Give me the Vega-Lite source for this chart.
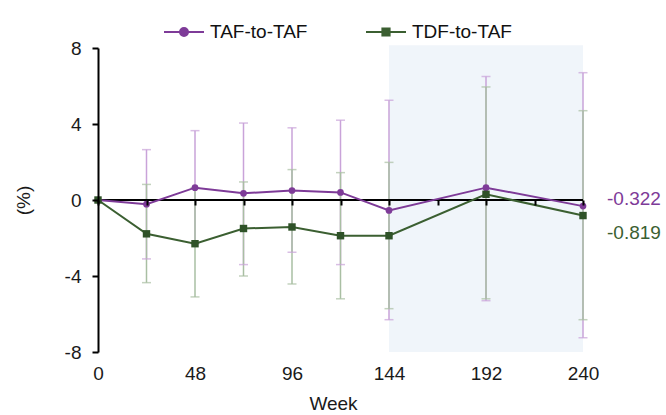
{
  "$schema": "https://vega.github.io/schema/vega-lite/v6.json",
  "width": 485,
  "height": 304,
  "autosize": "none",
  "padding": {"left": 98, "top": 48, "right": 83, "bottom": 63},
  "background": "white",
  "config": {
    "view": {"stroke": null},
    "font": "Liberation Sans",
    "axis": {"labelFont": "Liberation Sans", "titleFont": "Liberation Sans", "labelColor": "#1a1a1a", "titleColor": "#1a1a1a", "titleFontWeight": "normal", "grid": false}
  },
  "datasets": {
    "shade": [{"start": 144, "end": 240}],
    "zero": [{"level": 0}],
    "pts": [
      {"series": "TAF-to-TAF", "week": 0, "mean": 0, "lo": 0, "hi": 0},
      {"series": "TAF-to-TAF", "week": 24, "mean": -0.22, "lo": -3.1, "hi": 2.65},
      {"series": "TAF-to-TAF", "week": 48, "mean": 0.65, "lo": -2.3, "hi": 3.65},
      {"series": "TAF-to-TAF", "week": 72, "mean": 0.35, "lo": -3.4, "hi": 4.05},
      {"series": "TAF-to-TAF", "week": 96, "mean": 0.5, "lo": -2.75, "hi": 3.8},
      {"series": "TAF-to-TAF", "week": 120, "mean": 0.4, "lo": -3.4, "hi": 4.2},
      {"series": "TAF-to-TAF", "week": 144, "mean": -0.55, "lo": -6.3, "hi": 5.25},
      {"series": "TAF-to-TAF", "week": 192, "mean": 0.65, "lo": -5.3, "hi": 6.5},
      {"series": "TAF-to-TAF", "week": 240, "mean": -0.322, "lo": -7.25, "hi": 6.7},
      {"series": "TDF-to-TAF", "week": 0, "mean": 0, "lo": 0, "hi": 0},
      {"series": "TDF-to-TAF", "week": 24, "mean": -1.78, "lo": -4.35, "hi": 0.82},
      {"series": "TDF-to-TAF", "week": 48, "mean": -2.3, "lo": -5.1, "hi": 0.65},
      {"series": "TDF-to-TAF", "week": 72, "mean": -1.5, "lo": -4.0, "hi": 0.95},
      {"series": "TDF-to-TAF", "week": 96, "mean": -1.42, "lo": -4.42, "hi": 1.6},
      {"series": "TDF-to-TAF", "week": 120, "mean": -1.88, "lo": -5.2, "hi": 1.44},
      {"series": "TDF-to-TAF", "week": 144, "mean": -1.88, "lo": -5.72, "hi": 1.98},
      {"series": "TDF-to-TAF", "week": 192, "mean": 0.3, "lo": -5.2, "hi": 5.95},
      {"series": "TDF-to-TAF", "week": 240, "mean": -0.819, "lo": -6.3, "hi": 4.7}
    ],
    "endlabels": [
      {"series": "TAF-to-TAF", "week": 240, "mean": -0.322, "text": "-0.322"},
      {"series": "TDF-to-TAF", "week": 240, "mean": -0.819, "text": "-0.819"}
    ]
  },
  "layer": [
    {
      "data": {"name": "shade"},
      "mark": {"type": "rect", "color": "#f0f5fa"},
      "encoding": {
        "x": {"field": "start", "type": "quantitative", "scale": {"domain": [0, 240], "nice": false},
          "axis": {
            "values": [0, 24, 48, 72, 96, 120, 144, 168, 192, 216, 240],
            "labelExpr": "datum.value % 48 === 0 ? datum.label : ''",
            "offset": -152,
            "domain": false,
            "ticks": true, "tickColor": "#000", "tickWidth": 2, "tickSize": 5,
            "labelPadding": 159, "labelFontSize": 19, "labelFlush": false, "labelOverlap": false,
            "title": "Week", "titleFontSize": 19, "titlePadding": 11, "titleX": 235,
            "zindex": 1
          }},
        "x2": {"field": "end"},
        "y": {"datum": -8, "type": "quantitative", "scale": {"domain": [-8, 8], "nice": false},
          "axis": {
            "values": [-8, -4, 0, 4, 8],
            "labelExpr": "'' + datum.value",
            "domainColor": "#000", "domainWidth": 2,
            "tickColor": "#000", "tickWidth": 2, "tickSize": 6,
            "labelPadding": 11, "labelFontSize": 19,
            "title": "(%)", "titleFontSize": 19, "titlePadding": 31,
            "zindex": 1
          }},
        "y2": {"datum": 8.15}
      }
    },
    {
      "data": {"name": "pts"},
      "transform": [{"filter": "datum.week > 0"}],
      "mark": {"type": "rule", "strokeWidth": 1.5},
      "encoding": {
        "x": {"field": "week", "type": "quantitative"},
        "y": {"field": "lo", "type": "quantitative"},
        "y2": {"field": "hi"},
        "color": {"field": "series", "type": "nominal", "scale": {"domain": ["TAF-to-TAF", "TDF-to-TAF"], "range": ["#c9a3d9", "#a9bfa3"]}, "legend": null}
      }
    },
    {
      "data": {"name": "pts"},
      "transform": [{"filter": "datum.week > 0"}],
      "mark": {"type": "tick", "orient": "horizontal", "size": 9, "thickness": 1.5},
      "encoding": {
        "x": {"field": "week", "type": "quantitative"},
        "y": {"field": "lo", "type": "quantitative"},
        "color": {"field": "series", "type": "nominal", "scale": {"domain": ["TAF-to-TAF", "TDF-to-TAF"], "range": ["#c9a3d9", "#a9bfa3"]}, "legend": null}
      }
    },
    {
      "data": {"name": "pts"},
      "transform": [{"filter": "datum.week > 0"}],
      "mark": {"type": "tick", "orient": "horizontal", "size": 9, "thickness": 1.5},
      "encoding": {
        "x": {"field": "week", "type": "quantitative"},
        "y": {"field": "hi", "type": "quantitative"},
        "color": {"field": "series", "type": "nominal", "scale": {"domain": ["TAF-to-TAF", "TDF-to-TAF"], "range": ["#c9a3d9", "#a9bfa3"]}, "legend": null}
      }
    },
    {
      "data": {"name": "zero"},
      "mark": {"type": "rule", "color": "#000", "strokeWidth": 2},
      "encoding": {
        "y": {"field": "level", "type": "quantitative"}
      }
    },
    {
      "data": {"name": "pts"},
      "mark": {"type": "line", "strokeWidth": 2},
      "encoding": {
        "x": {"field": "week", "type": "quantitative"},
        "y": {"field": "mean", "type": "quantitative"},
        "stroke": {"field": "series", "type": "nominal",
          "scale": {"domain": ["TAF-to-TAF", "TDF-to-TAF"], "range": ["#7e3b98", "#3b5f31"]},
          "legend": {
            "orient": "none", "legendX": 65, "legendY": -37, "direction": "horizontal",
            "title": null, "labelFontSize": 19, "labelColor": "#111", "labelFont": "Liberation Sans",
            "symbolSize": 1600, "symbolStrokeWidth": 2, "labelOffset": 5, "columnPadding": 54,
            "encode": {
              "symbols": {
                "update": {
                  "shape": {"signal": "datum.value === 'TAF-to-TAF' ? 'M-1,0H1M-0.2,0A0.2,0.2 0 1,1 0.2,0A0.2,0.2 0 1,1 -0.2,0Z' : 'M-1,0H1M-0.18,-0.18H0.18V0.18H-0.18Z'"},
                  "fill": {"scale": "stroke", "field": "value"},
                  "stroke": {"scale": "stroke", "field": "value"},
                  "strokeWidth": {"value": 2}
                }
              }
            }
          }}
      }
    },
    {
      "data": {"name": "pts"},
      "transform": [{"filter": "datum.series === 'TAF-to-TAF'"}],
      "mark": {"type": "point", "filled": true, "opacity": 1, "shape": "circle", "size": 45, "color": "#7e3b98"},
      "encoding": {
        "x": {"field": "week", "type": "quantitative"},
        "y": {"field": "mean", "type": "quantitative"}
      }
    },
    {
      "data": {"name": "pts"},
      "transform": [{"filter": "datum.series === 'TDF-to-TAF'"}],
      "mark": {"type": "point", "filled": true, "opacity": 1, "shape": "square", "size": 55, "color": "#2f5228"},
      "encoding": {
        "x": {"field": "week", "type": "quantitative"},
        "y": {"field": "mean", "type": "quantitative"}
      }
    },
    {
      "data": {"name": "endlabels"},
      "transform": [{"filter": "datum.series === 'TAF-to-TAF'"}],
      "mark": {"type": "text", "align": "left", "baseline": "middle", "dx": 24, "dy": -7, "fontSize": 19, "font": "Liberation Sans", "color": "#7e3b98"},
      "encoding": {
        "x": {"field": "week", "type": "quantitative"},
        "y": {"field": "mean", "type": "quantitative"},
        "text": {"field": "text"}
      }
    },
    {
      "data": {"name": "endlabels"},
      "transform": [{"filter": "datum.series === 'TDF-to-TAF'"}],
      "mark": {"type": "text", "align": "left", "baseline": "middle", "dx": 24, "dy": 17, "fontSize": 19, "font": "Liberation Sans", "color": "#3b5f31"},
      "encoding": {
        "x": {"field": "week", "type": "quantitative"},
        "y": {"field": "mean", "type": "quantitative"},
        "text": {"field": "text"}
      }
    }
  ],
  "resolve": {"scale": {"color": "independent"}}
}
